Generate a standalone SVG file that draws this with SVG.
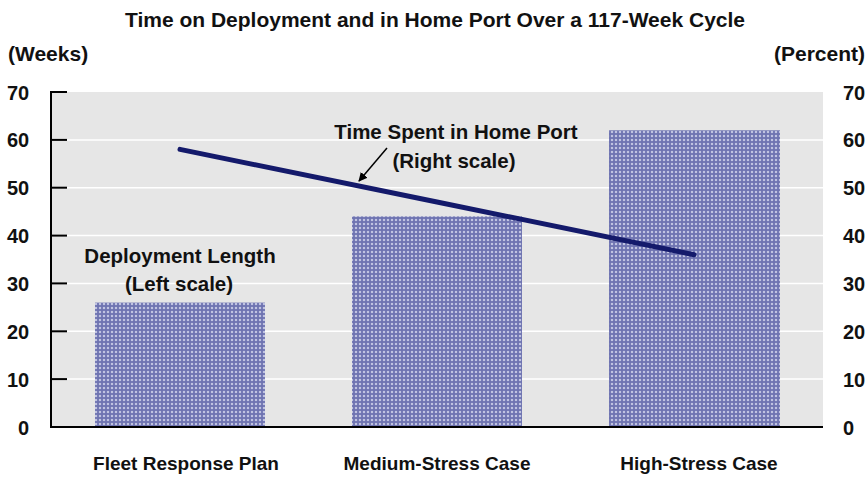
<svg xmlns="http://www.w3.org/2000/svg" width="868" height="477" viewBox="0 0 868 477">
<style>
text{font-family:"Liberation Sans",Arial,sans-serif;font-weight:bold;fill:#111}
.t{font-size:21px}
.ax{font-size:21px}
.tick{font-size:20px}
.ann{font-size:20.5px}
.xl{font-size:19px}
.grid{stroke:#fff;stroke-width:1.5}
.tk{stroke:#000;stroke-width:2}
</style>
<defs>
<pattern id="hatch" width="4" height="4" patternUnits="userSpaceOnUse">
<rect width="4" height="4" fill="#c0c3e1"/>
<rect x="1" y="0" width="2" height="4" fill="#767bb6"/>
<rect x="0" y="1" width="4" height="2" fill="#767bb6"/>
<rect x="1.5" y="1.5" width="1" height="1" fill="#595fa2"/>
</pattern>
<marker id="arr" viewBox="0 0 10 10" refX="9" refY="5" markerWidth="9" markerHeight="9" orient="auto" markerUnits="userSpaceOnUse">
<path d="M0,0 L10,5 L0,10 z" fill="#000"/>
</marker>
</defs>
<text class="t" x="435" y="27" text-anchor="middle">Time on Deployment and in Home Port Over a 117-Week Cycle</text>
<text class="ax" x="8" y="61">(Weeks)</text>
<text class="ax" x="865" y="61" text-anchor="end">(Percent)</text>
<g id="plot">
<rect x="51" y="92" width="772" height="335" fill="#e6e6e6"/>
<g class="grid">
<line x1="51" y1="139.9" x2="823" y2="139.9"/>
<line x1="51" y1="187.7" x2="823" y2="187.7"/>
<line x1="51" y1="235.6" x2="823" y2="235.6"/>
<line x1="51" y1="283.4" x2="823" y2="283.4"/>
<line x1="51" y1="331.3" x2="823" y2="331.3"/>
<line x1="51" y1="379.1" x2="823" y2="379.1"/>
</g>
</g>
<g id="left-axis">
<line class="tk" x1="51" y1="91" x2="51" y2="428"/>
<line class="tk" x1="51" y1="92" x2="67" y2="92"/>
<line class="tk" x1="51" y1="139.9" x2="67" y2="139.9"/>
<line class="tk" x1="51" y1="187.7" x2="67" y2="187.7"/>
<line class="tk" x1="51" y1="235.6" x2="67" y2="235.6"/>
<line class="tk" x1="51" y1="283.4" x2="67" y2="283.4"/>
<line class="tk" x1="51" y1="331.3" x2="67" y2="331.3"/>
<line class="tk" x1="51" y1="379.1" x2="67" y2="379.1"/>
<g class="tick">
<text x="7" y="100">70</text>
<text x="7" y="147">60</text>
<text x="7" y="195">50</text>
<text x="7" y="243">40</text>
<text x="7" y="291">30</text>
<text x="7" y="339">20</text>
<text x="7" y="387">10</text>
<text x="18" y="435">0</text>
</g>
</g>
<g id="right-axis" class="tick">
<text x="843" y="100">70</text>
<text x="843" y="147">60</text>
<text x="843" y="195">50</text>
<text x="843" y="243">40</text>
<text x="843" y="291">30</text>
<text x="843" y="339">20</text>
<text x="843" y="387">10</text>
<text x="843" y="435">0</text>
</g>
<g id="bar-frp"><rect x="95" y="302.6" width="170" height="124.4" fill="url(#hatch)"/></g>
<g id="bar-medium"><rect x="352" y="216.4" width="170" height="210.6" fill="url(#hatch)"/></g>
<g id="bar-high"><rect x="609" y="130.3" width="171" height="296.7" fill="url(#hatch)"/></g>
<line class="tk" x1="50" y1="427" x2="823" y2="427"/>
<g id="connectors">
<polyline points="180,149.4 437,202 694,254.7" fill="none" stroke="#141a6b" stroke-width="5" stroke-linecap="round"/>
<line x1="387" y1="148" x2="359" y2="181" stroke="#000" stroke-width="1.5" marker-end="url(#arr)"/>
</g>
<g id="label-home" class="ann">
<text x="456" y="139" text-anchor="middle">Time Spent in Home Port</text>
<text x="454" y="168" text-anchor="middle">(Right scale)</text>
</g>
<g id="label-deploy" class="ann">
<text x="180" y="263" text-anchor="middle">Deployment Length</text>
<text x="179" y="291" text-anchor="middle">(Left scale)</text>
</g>
<g id="xlabels" class="xl">
<text x="186" y="470" text-anchor="middle">Fleet Response Plan</text>
<text x="437" y="470" text-anchor="middle">Medium-Stress Case</text>
<text x="699" y="470" text-anchor="middle">High-Stress Case</text>
</g>
</svg>
